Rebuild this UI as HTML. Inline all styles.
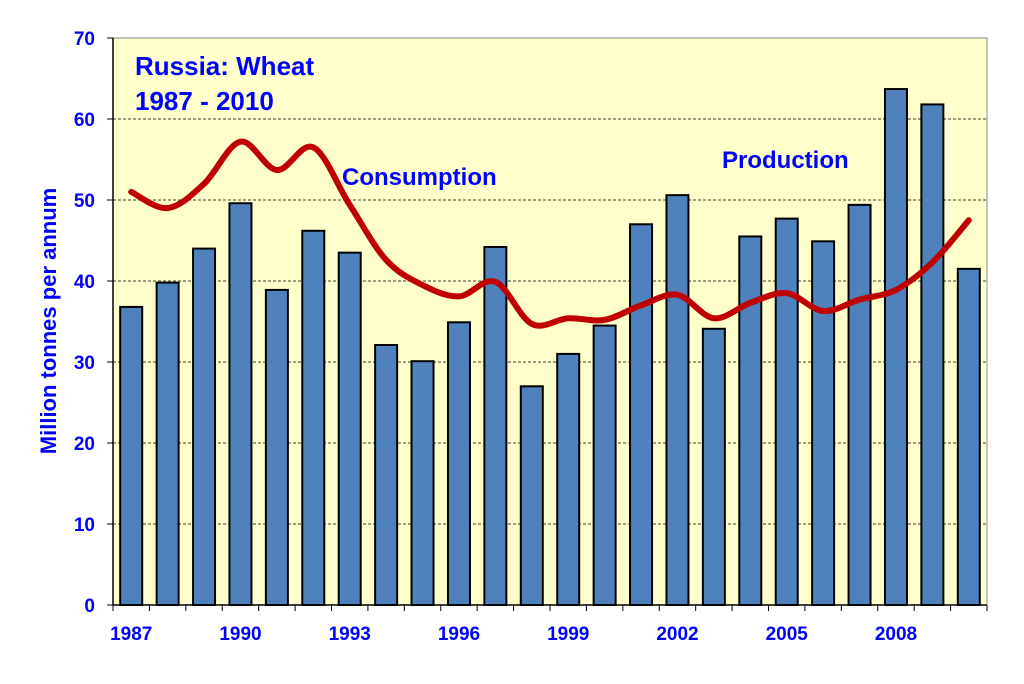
<!DOCTYPE html>
<html><head><meta charset="utf-8"><style>
body{margin:0;background:#fff;width:1024px;height:679px;overflow:hidden}
svg text{font-family:"Liberation Sans",Arial,sans-serif;font-weight:bold}
</style></head><body>
<svg width="1024" height="679">
<g id="plot"></g>
</svg>
<script>
const years=[1987,1988,1989,1990,1991,1992,1993,1994,1995,1996,1997,1998,1999,2000,2001,2002,2003,2004,2005,2006,2007,2008,2009,2010];
const production=[36.8,39.8,44,49.6,38.9,46.2,43.5,32.1,30.1,34.9,44.2,27,31,34.5,47,50.6,34.1,45.5,47.7,44.9,49.4,63.7,61.8,41.5];
const consumption=[51,49,52,57.2,53.7,56.5,49.4,42.6,39.5,38.1,39.9,34.7,35.4,35.2,37,38.3,35.4,37.3,38.5,36.3,37.7,38.9,42.3,47.5];
const yTicks=[0,10,20,30,40,50,60,70];
const xLabels=[1987,1990,1993,1996,1999,2002,2005,2008];
const L=113,R=987,T=38,B=605,YMAX=70;
const bw=(R-L)/years.length;
const xc=i=>L+bw*(i+0.5);
const y=v=>B-(B-T)*v/YMAX;
const NS='http://www.w3.org/2000/svg';
const g=document.getElementById('plot');
function mk(tag,attrs,parent){const e=document.createElementNS(NS,tag);for(const k in attrs)e.setAttribute(k,attrs[k]);(parent||g).appendChild(e);return e;}
let bg=mk('rect',{x:L,y:T,width:R-L,height:B-T,fill:'#ffffcc',stroke:'#888','stroke-width':1});


yTicks.forEach(v=>{
  if(v>0&&v<YMAX){let gl=mk('line',{x1:L,x2:R,y1:y(v),y2:y(v),stroke:'#000','stroke-dasharray':'3,2','stroke-width':0.8});
  
  }
  let t=mk('text',{x:L-18,y:y(v)+7,'text-anchor':'end','font-size':19,fill:'#0000ff'});t.textContent=v;
  
  
  mk('line',{x1:L-6,x2:L,y1:y(v),y2:y(v),stroke:'#000'});
});
years.forEach((yr,i)=>{
  let r=mk('rect',{x:xc(i)-11,y:y(production[i]),width:22,height:B-y(production[i]),fill:'#4f81bd',stroke:'#000','stroke-width':2});
  
  
  mk('line',{x1:L+bw*i,x2:L+bw*i,y1:B,y2:B+6,stroke:'#000'});
});
mk('line',{x1:R,x2:R,y1:B,y2:B+6,stroke:'#000'});
mk('line',{x1:L,x2:R,y1:B,y2:B,stroke:'#000','stroke-width':1.5});
mk('line',{x1:L,x2:L,y1:T,y2:B,stroke:'#000','stroke-width':1.5});
xLabels.forEach(yr=>{
  const i=years.indexOf(yr);
  let t=mk('text',{x:xc(i),y:640,'text-anchor':'middle','font-size':19,fill:'#0000ff'});t.textContent=yr;
  
  
});
const pts=consumption.map((v,i)=>[xc(i),y(v)]);
let d='M'+pts[0][0]+','+pts[0][1];
for(let i=0;i<pts.length-1;i++){
  const p0=pts[i-1]||pts[i],p1=pts[i],p2=pts[i+1],p3=pts[i+2]||p2;
  const c1=[p1[0]+(p2[0]-p0[0])/6,p1[1]+(p2[1]-p0[1])/6];
  const c2=[p2[0]-(p3[0]-p1[0])/6,p2[1]-(p3[1]-p1[1])/6];
  d+=' C'+c1+' '+c2+' '+p2;
}
let ln=mk('path',{d:d,fill:'none',stroke:'#c00000','stroke-width':6,'stroke-linejoin':'round','stroke-linecap':'round'});


function lbl(txt,x,yy,size,name,anchor){let t=mk('text',{x:x,y:yy,'font-size':size,fill:'#0000ff','text-anchor':anchor||'start'});t.textContent=txt;
  
  return t;}
lbl('Russia:  Wheat',135,75,26,'chart-title');
lbl('1987 - 2010',135,110,26,'chart-subtitle');
lbl('Consumption',342,185,24,'consumption-label');
lbl('Production',722,168,24,'production-label');
let yt=mk('text',{x:0,y:0,'font-size':22,fill:'#0000ff','text-anchor':'middle',transform:'translate(56,321) rotate(-90)'});
yt.textContent='Million tonnes per annum';


</script>
</body></html>
